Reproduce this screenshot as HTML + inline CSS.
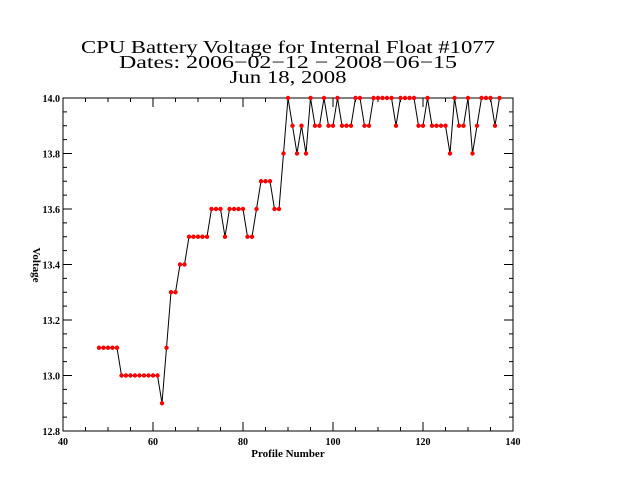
<!DOCTYPE html>
<html><head><meta charset="utf-8"><style>
html,body{margin:0;padding:0;background:#fff;}
svg{display:block;font-family:"Liberation Serif",serif;}
</style></head><body>
<svg id="chart" width="640" height="480" xmlns="http://www.w3.org/2000/svg">
<rect width="640" height="480" fill="#fff"/>
<text x="288" y="53" font-size="18" text-anchor="middle" textLength="414" lengthAdjust="spacingAndGlyphs">CPU Battery Voltage for Internal Float #1077</text>
<text x="288" y="68" font-size="18" text-anchor="middle" textLength="338" lengthAdjust="spacingAndGlyphs">Dates:  2006−02−12 −  2008−06−15</text>
<text x="288" y="83" font-size="18" text-anchor="middle" textLength="117" lengthAdjust="spacingAndGlyphs">Jun 18, 2008</text>
<g id="axes"></g>
<g id="series"></g>
<text x="288" y="457" font-size="11" font-weight="bold" text-anchor="middle">Profile Number</text>
<text x="0" y="0" font-size="11" font-weight="bold" text-anchor="middle" transform="translate(33,265) rotate(90)">Voltage</text>
</svg>
<script>
const profiles = [];
for (let p = 48; p <= 137; p++) profiles.push(p);
const voltages = [
13.1,13.1,13.1,13.1,13.1, 13.0,13.0,13.0,13.0,13.0,13.0,13.0,13.0,13.0, 12.9, 13.1, 13.3,13.3, 13.4,13.4,
13.5,13.5,13.5,13.5,13.5, 13.6,13.6,13.6, 13.5, 13.6,13.6,13.6,13.6, 13.5,13.5, 13.6, 13.7,13.7,13.7, 13.6,13.6, 13.8,
14.0, 13.9, 13.8, 13.9, 13.8, 14.0, 13.9,13.9, 14.0, 13.9,13.9, 14.0, 13.9,13.9,13.9, 14.0,14.0, 13.9,13.9,
14.0,14.0,14.0,14.0,14.0, 13.9, 14.0,14.0,14.0,14.0, 13.9,13.9, 14.0, 13.9,13.9,13.9,13.9, 13.8, 14.0, 13.9,13.9, 14.0, 13.8, 13.9,
14.0,14.0,14.0, 13.9, 14.0];
const xTicks = [40,60,80,100,120,140];
const yTicks = ["12.8","13.0","13.2","13.4","13.6","13.8","14.0"];

const X0=63,X1=513,Y0=431,Y1=98,xMin=40,xMax=140,yMin=12.8,yMax=14.0;
const xs=v=>X0+(v-xMin)/(xMax-xMin)*(X1-X0);
const ys=v=>Y0-(v-yMin)/(yMax-yMin)*(Y0-Y1);
const NS="http://www.w3.org/2000/svg";
const axes=document.getElementById('axes'), series=document.getElementById('series');
function mk(tag,attrs,parent){const e=document.createElementNS(NS,tag);for(const k in attrs)e.setAttribute(k,attrs[k]);parent.appendChild(e);return e;}

const frame=mk('rect',{x:X0,y:Y1,width:X1-X0,height:Y0-Y1,fill:'none',stroke:'#000','stroke-width':1},axes);


// x ticks
for(let v=xMin;v<=xMax;v+=5){
  const major=(v%20===0), len=major?9:4, x=xs(v);
  const t=mk('path',{d:`M${x},${Y0}v${-len}M${x},${Y1}v${len}`,stroke:'#000','stroke-width':1},axes);
  
  
}
xTicks.forEach(v=>{
  const t=mk('text',{x:xs(v),y:Y0+14,'font-size':10,'font-weight':'bold','text-anchor':'middle'},axes);
  t.textContent=v;
  
  
});
// y ticks
for(let i=0;i<=24;i++){
  const v=yMin+i*0.05, major=(i%4===0), len=major?9:4, y=ys(v);
  const t=mk('path',{d:`M${X0},${y}h${len}M${X1},${y}h${-len}`,stroke:'#000','stroke-width':1},axes);
  
  
}
yTicks.forEach(s=>{
  const t=mk('text',{x:X0-3,y:ys(parseFloat(s))+4,'font-size':10,'font-weight':'bold','text-anchor':'end'},axes);
  t.textContent=s;
  
  
});
// line
const line=mk('polyline',{points:profiles.map((p,i)=>xs(p)+','+ys(voltages[i])).join(' '),fill:'none',stroke:'#000','stroke-width':1},series);


profiles.forEach((p,i)=>{
  const c=mk('circle',{cx:xs(p),cy:ys(voltages[i]),r:2.2,fill:'#f00'},series);
  
  
});
</script>
</body></html>
